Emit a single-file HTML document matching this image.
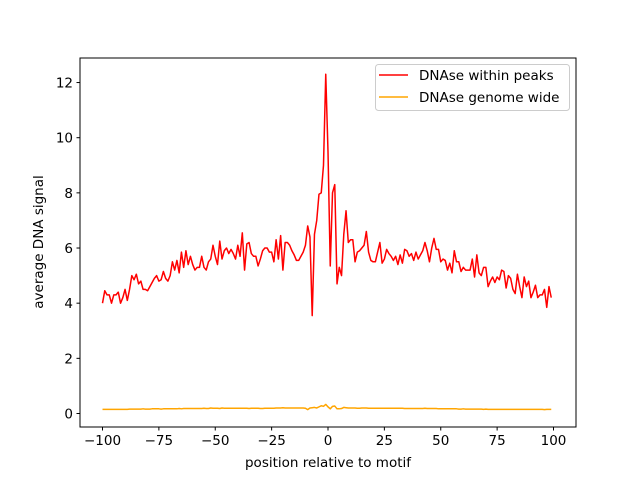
<!DOCTYPE html>
<html><head><meta charset="utf-8"><style>
body{margin:0;background:#fff}
svg text{font-family:"DejaVu Sans","Liberation Sans",sans-serif;font-size:13.5px;fill:#000}
</style></head><body>
<svg id="chart" width="640" height="480" xmlns="http://www.w3.org/2000/svg">
<rect x="0" y="0" width="640" height="480" fill="#fff"/>
<g id="plot"></g>
<rect x="80" y="58" width="496" height="369" fill="none" stroke="#000" stroke-width="1"/>
<g id="axes"></g>
<text x="328" y="467" text-anchor="middle">position relative to motif</text>
<text transform="translate(43,242) rotate(-90)" text-anchor="middle">average DNA signal</text>
<g>
<rect x="375.5" y="64.5" width="194" height="46" rx="3" fill="#fff" stroke="#ccc"/>
<line x1="379" y1="75" x2="408" y2="75" stroke="red" stroke-width="1.5"/>
<text x="419" y="80">DNAse within peaks</text>
<line x1="379" y1="97" x2="408" y2="97" stroke="orange" stroke-width="1.5"/>
<text x="419" y="102">DNAse genome wide</text>
</g>
</svg>
<script>
const positions=[];for(let i=-100;i<=99;i++)positions.push(i);
const peaks=[4.0,4.45,4.3,4.3,4.0,4.3,4.3,4.4,4.0,4.2,
4.5,4.1,4.5,5.0,4.85,5.05,4.7,4.8,4.5,4.5,
4.45,4.6,4.75,4.9,5.0,4.8,4.85,5.15,4.9,4.8,
5.0,5.5,5.2,5.55,5.1,5.85,5.3,5.9,5.4,5.7,
5.4,5.2,5.3,5.3,5.7,5.3,5.2,5.5,5.6,6.1,
5.7,5.4,6.25,5.6,5.9,6.0,5.8,5.95,5.8,5.6,
6.1,5.7,6.55,5.2,6.15,6.2,5.8,5.7,5.7,5.35,
5.6,5.9,6.0,6.0,5.85,5.85,5.5,6.3,5.6,6.45,
5.2,6.2,6.2,6.1,5.9,5.75,5.55,5.55,5.7,5.85,
6.1,6.8,6.4,3.55,6.5,7.0,7.95,8.0,9.0,12.3,
9.5,5.35,8.0,8.3,4.7,5.3,5.0,6.5,7.35,6.2,
6.3,6.3,5.5,5.85,5.9,6.0,6.1,6.6,5.85,5.55,
5.5,5.5,5.85,6.2,5.45,5.6,5.95,5.8,5.7,5.55,
5.7,5.4,5.75,5.45,5.95,5.9,5.7,5.8,5.55,5.85,
5.6,5.75,5.9,6.2,5.9,5.5,6.0,6.35,5.95,5.95,
5.5,5.6,5.55,5.2,5.45,5.1,5.9,5.5,5.5,5.15,
5.3,5.2,5.2,5.2,5.6,4.95,5.75,5.1,5.0,5.3,
5.3,4.6,4.8,4.95,4.75,4.95,4.85,5.2,5.15,4.55,
5.0,4.9,4.5,4.35,5.05,4.6,4.2,4.95,4.6,4.8,
4.2,4.4,4.65,4.2,4.3,4.3,4.5,3.85,4.6,4.2];
const genome=[0.15,0.15,0.15,0.15,0.15,0.15,0.15,0.15,0.15,0.15,
0.15,0.15,0.16,0.16,0.16,0.16,0.16,0.16,0.17,0.16,
0.16,0.16,0.17,0.17,0.17,0.17,0.16,0.17,0.17,0.17,
0.17,0.17,0.17,0.17,0.18,0.17,0.18,0.18,0.18,0.18,
0.18,0.18,0.18,0.18,0.18,0.19,0.18,0.18,0.2,0.19,
0.19,0.19,0.18,0.2,0.19,0.19,0.19,0.19,0.19,0.19,
0.19,0.19,0.19,0.19,0.19,0.18,0.19,0.19,0.19,0.19,
0.18,0.18,0.19,0.19,0.19,0.19,0.19,0.2,0.2,0.2,
0.21,0.2,0.2,0.2,0.2,0.2,0.2,0.2,0.2,0.2,
0.19,0.14,0.2,0.21,0.22,0.2,0.24,0.28,0.26,0.33,
0.24,0.17,0.26,0.27,0.17,0.17,0.18,0.22,0.21,0.2,
0.2,0.2,0.2,0.19,0.19,0.2,0.2,0.2,0.19,0.19,
0.19,0.19,0.19,0.19,0.19,0.19,0.19,0.19,0.19,0.19,
0.19,0.19,0.19,0.19,0.18,0.18,0.18,0.18,0.18,0.18,
0.18,0.18,0.18,0.19,0.18,0.18,0.18,0.18,0.18,0.17,
0.17,0.17,0.17,0.17,0.17,0.17,0.17,0.17,0.16,0.16,
0.17,0.16,0.16,0.16,0.16,0.16,0.16,0.16,0.16,0.15,
0.16,0.15,0.15,0.15,0.15,0.15,0.15,0.15,0.15,0.15,
0.15,0.15,0.15,0.15,0.15,0.15,0.15,0.15,0.15,0.15,
0.15,0.15,0.15,0.15,0.15,0.15,0.14,0.15,0.15,0.15];
const xTicks=[-100,-75,-50,-25,0,25,50,75,100];
const yTicks=[0,2,4,6,8,10,12];
const NS="http://www.w3.org/2000/svg";
function xs(v){return 328+(v)*2.255;}
function ys(v){return 413.5-v*27.58;}
const plot=document.getElementById('plot'),axes=document.getElementById('axes');
function mk(t,a,p){const e=document.createElementNS(NS,t);for(const k in a)e.setAttribute(k,a[k]);p.appendChild(e);return e;}
function line(data,color,name){
  const d=data.map((v,i)=>(i?'L':'M')+xs(positions[i]).toFixed(2)+' '+ys(v).toFixed(2)).join(' ');
  const p=mk('path',{d:d,fill:'none',stroke:color,'stroke-width':1.5,'stroke-linejoin':'round'},plot);
  
  
}
line(peaks,'red','series-peaks');
line(genome,'orange','series-genome');
xTicks.forEach(t=>{
  const x=xs(t);
  const l=mk('line',{x1:x,x2:x,y1:427,y2:430.5,stroke:'#000'},axes);
  
  
  const tx=mk('text',{x:x,y:445,'text-anchor':'middle'},axes);tx.textContent=t<0?'\u2212'+(-t):t;
  
  
});
yTicks.forEach(t=>{
  const y=ys(t);
  const l=mk('line',{x1:76.5,x2:80,y1:y,y2:y,stroke:'#000'},axes);
  
  
  const tx=mk('text',{x:73,y:y+5,'text-anchor':'end'},axes);tx.textContent=t;
  
  
});
</script>
</body></html>
